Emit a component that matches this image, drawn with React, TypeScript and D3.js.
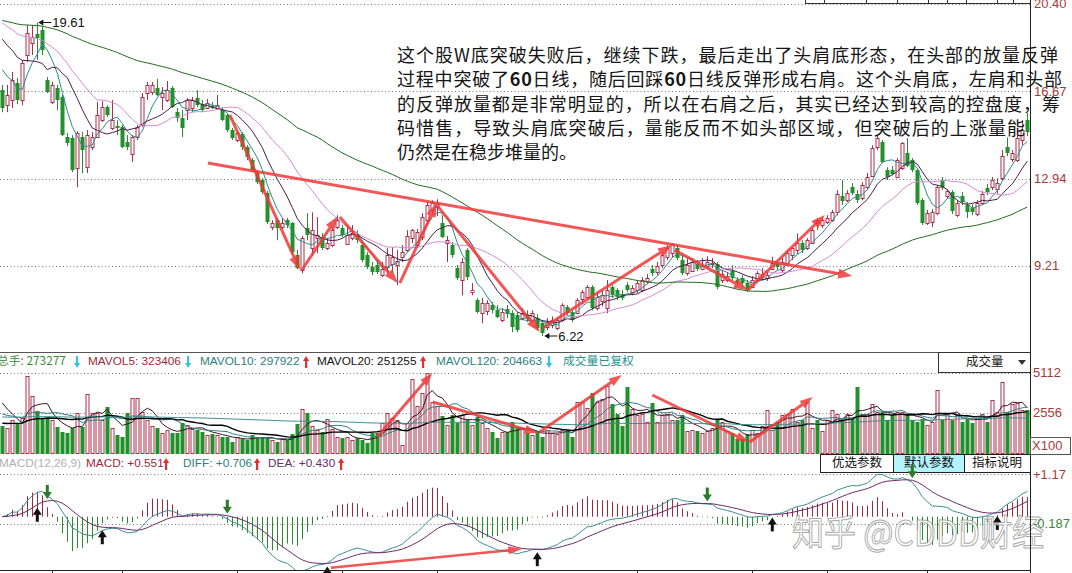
import React from "react";
import * as d3 from "d3";

type Candle = [number, number, number, number]; // open, high, low, close

const candles: Candle[] = [
  [16.72,16.94,15.78,15.96],[16.08,16.94,15.78,16.51],[16.30,17.50,15.96,17.15],[17.02,17.24,16.13,16.30],[16.30,18.01,16.08,17.88],
  [18.22,19.50,17.92,19.16],[18.73,19.50,18.22,18.99],[19.10,19.61,18.01,18.95],[19.29,19.46,18.22,18.43],[17.15,17.28,16.60,16.64],
  [16.21,17.07,16.13,16.94],[16.81,16.94,15.87,16.30],[16.43,16.51,14.76,14.80],[14.72,14.89,14.33,14.46],[14.67,14.80,13.22,13.31],
  [13.39,14.97,12.58,14.89],[14.72,14.93,13.18,14.16],[13.44,15.02,13.18,14.80],[14.29,14.93,14.16,14.72],[14.72,16.21,14.72,15.66],
  [15.44,16.25,15.36,16.00],[16.00,16.08,15.57,15.66],[15.10,16.30,15.02,15.44],[15.18,15.44,14.80,15.10],[15.14,15.23,14.25,14.29],
  [14.50,14.80,14.16,14.29],[14.00,14.80,13.65,14.72],[14.72,15.23,14.59,15.14],[15.23,16.60,15.14,16.43],[16.60,17.07,16.30,16.94],
  [16.64,17.07,16.51,16.94],[16.81,17.20,16.47,16.51],[16.43,16.85,15.87,16.60],[16.30,17.11,16.21,16.72],[16.81,16.90,15.96,16.00],
  [15.78,15.96,15.36,15.53],[15.53,15.87,14.72,15.10],[15.87,16.38,15.44,16.30],[15.95,16.43,15.78,16.30],[16.38,16.72,16.00,16.08],
  [16.13,16.30,15.78,15.87],[15.95,16.34,15.91,16.17],[16.04,16.21,15.91,15.95],[15.95,16.51,15.87,16.08],[15.87,16.00,15.40,15.44],
  [15.66,15.74,14.93,15.02],[15.02,15.10,14.59,14.67],[14.59,14.97,14.50,14.89],[14.84,14.93,14.16,14.29],[14.29,14.37,13.73,13.86],
  [13.73,13.82,13.22,13.31],[13.18,13.31,12.71,12.80],[12.88,12.96,12.28,12.37],[12.32,12.41,11.00,11.08],[10.87,11.17,10.74,11.05],
  [11.17,11.26,10.31,10.83],[10.87,11.26,10.79,11.04],[11.17,11.26,10.83,10.96],[11.04,11.09,9.72,9.80],[9.67,9.89,9.08,9.12],
  [9.03,10.49,8.90,10.40],[10.83,11.47,10.31,10.53],[10.00,11.50,9.67,10.74],[10.40,11.30,9.76,10.53],[10.44,10.61,9.89,9.97],
  [9.97,10.40,9.89,10.18],[10.10,10.83,10.02,10.74],[10.87,11.38,10.79,11.17],[10.83,10.96,10.44,10.53],[10.14,10.96,10.14,10.53],
  [10.40,10.96,10.31,10.61],[10.53,10.74,10.19,10.31],[10.10,10.31,9.38,9.46],[9.67,9.80,9.08,9.16],[9.16,9.38,8.82,8.95],
  [9.25,9.46,8.86,8.95],[8.82,9.38,8.73,9.10],[9.16,9.97,8.86,9.67],[9.29,10.02,8.95,9.59],[9.25,9.89,8.39,9.42],
  [9.60,10.10,9.38,9.80],[9.90,10.74,9.80,10.50],[10.40,10.79,10.19,10.74],[10.10,10.79,10.02,10.65],[10.44,11.47,10.31,11.30],
  [11.17,11.94,11.09,11.81],[11.60,12.02,11.38,11.89],[11.72,12.06,11.34,11.89],[11.04,11.38,10.40,10.44],[10.20,10.49,9.38,10.30],
  [10.10,10.23,9.55,9.67],[9.12,9.25,8.61,8.69],[8.61,9.55,7.96,9.38],[9.89,9.97,8.61,8.73],[8.10,8.48,7.96,8.20],
  [7.75,7.84,7.19,7.24],[7.20,7.84,6.77,7.63],[7.28,7.75,7.11,7.63],[7.54,7.67,7.19,7.32],[7.32,7.54,6.98,7.03],
  [6.90,7.41,6.81,7.24],[7.37,7.54,6.98,7.15],[7.20,7.32,6.38,6.60],[7.10,7.24,6.38,6.47],[7.00,7.41,6.89,7.20],
  [7.10,7.32,6.81,6.95],[6.90,7.32,6.81,7.20],[7.00,7.15,6.47,6.55],[6.77,6.89,6.22,6.35],[6.60,6.98,6.47,6.80],
  [6.70,7.06,6.55,6.90],[6.55,7.02,6.47,6.90],[6.90,7.62,6.81,7.54],[7.46,7.54,7.11,7.20],[7.24,7.32,6.81,6.90],
  [7.20,7.84,7.15,7.75],[7.80,8.18,7.58,8.10],[7.90,8.39,7.79,8.30],[8.30,8.39,7.32,7.40],[7.40,8.05,7.32,7.90],
  [7.70,8.18,7.49,7.98],[7.40,8.61,7.19,8.20],[8.30,8.39,7.84,7.97],[8.20,8.26,7.75,7.90],[8.00,8.18,7.75,7.85],
  [8.40,8.52,8.09,8.18],[8.10,8.39,7.96,8.27],[8.20,8.61,8.05,8.50],[8.20,8.73,8.09,8.60],[8.55,8.86,8.43,8.70],
  [9.10,9.25,8.78,8.90],[8.95,9.38,8.82,9.20],[9.25,9.80,9.12,9.67],[9.60,10.10,9.46,10.00],[9.75,10.19,9.55,10.15],
  [10.00,10.10,9.46,9.55],[9.46,9.67,8.82,8.90],[8.90,9.55,8.80,9.25],[9.00,9.55,8.95,9.38],[9.30,9.46,8.99,9.10],
  [9.10,9.55,9.03,9.20],[9.20,9.63,9.10,9.40],[9.30,9.55,9.12,9.35],[9.30,9.38,8.22,8.30],[8.60,9.03,8.48,8.85],
  [8.60,8.95,8.52,8.80],[9.00,9.25,8.61,8.70],[8.60,8.73,8.35,8.50],[8.70,8.82,8.35,8.50],[8.50,8.61,8.10,8.20],
  [8.30,8.78,8.26,8.60],[8.60,8.99,8.52,8.90],[8.75,9.12,8.61,8.85],[8.70,8.95,8.57,8.82],[9.10,9.60,9.03,9.33],
  [9.30,9.38,9.03,9.15],[9.03,9.55,8.95,9.38],[9.35,9.89,9.25,9.77],[9.70,10.02,9.46,10.00],[9.90,10.60,9.72,10.20],
  [10.20,10.31,9.76,9.90],[9.97,10.40,9.89,10.30],[10.20,10.83,10.14,10.74],[11.17,11.26,10.74,11.00],[10.96,11.30,10.83,11.17],
  [11.10,11.38,11.00,11.25],[11.17,11.60,11.09,11.50],[11.50,12.45,11.38,12.30],[12.20,12.88,11.81,12.00],[12.02,12.45,11.94,12.32],
  [12.60,12.75,12.24,12.32],[12.30,12.45,11.90,12.02],[12.10,12.79,12.02,12.66],[12.60,13.18,12.45,13.00],[13.05,14.37,13.01,14.25],
  [14.30,14.80,14.16,14.67],[14.50,14.59,13.61,13.65],[13.30,13.43,12.88,13.00],[13.30,13.48,13.09,13.15],[13.00,13.82,12.96,13.73],
  [13.40,14.50,13.31,14.46],[14.05,14.67,13.43,13.50],[13.73,13.82,13.22,13.30],[13.30,13.39,11.81,11.90],[12.02,12.11,10.96,11.04],
  [11.04,11.60,10.96,11.47],[11.10,11.64,10.87,11.50],[11.47,12.67,11.38,12.58],[12.88,13.01,12.45,12.55],[12.20,12.49,12.11,12.40],
  [12.35,12.45,11.43,11.55],[11.40,12.02,11.30,11.90],[12.20,12.37,11.81,11.95],[11.80,11.94,11.26,11.50],[11.70,11.85,11.38,11.50],
  [11.45,12.02,11.34,11.90],[11.90,12.41,11.81,12.30],[12.55,12.71,12.24,12.35],[12.60,13.01,12.45,12.88],[12.50,12.95,12.30,12.75],
  [12.95,14.16,12.88,13.90],[14.30,14.70,13.90,14.05],[13.80,14.16,13.65,14.05],[13.73,14.80,13.65,14.67],[14.60,15.44,14.37,15.00],
  [15.44,15.75,14.76,14.93],
];

// volume in units of 100 shares (axis "X100")
const volumes: number[] = [
  1725,1600,2100,1900,2240,4920,3640,2690,2240,2300,
  2100,1660,1340,1280,1600,2560,1660,3770,2560,2560,
  2100,2940,1600,1150,1020,2560,3510,3510,2620,2100,
  1725,1600,1280,1470,1280,1280,1920,1790,1530,1470,
  1340,1150,1210,1150,1020,1020,700,1020,890,830,
  1150,960,1020,960,830,700,890,830,1200,1850,
  2810,2560,1725,1470,1340,2170,1530,1020,960,1020,
  830,960,830,640,1280,1280,1920,2560,2240,2100,
  500,1900,4730,3000,3830,5110,3260,3000,2360,1790,
  2430,1920,2430,2100,1790,2300,1920,1600,1340,960,
  1340,1340,2000,1600,1530,1280,1150,1400,1020,1470,
  1300,1200,1500,1500,1000,3260,3260,2900,3830,3260,
  3450,4280,3100,2500,1700,4220,2800,2400,2500,2000,
  3200,2000,2400,2500,2100,2100,2400,1400,1500,1400,
  1300,1400,1600,2200,2000,1400,1300,900,900,1200,
  1500,1300,1700,2750,1500,2000,2400,2500,2800,2000,
  2100,3260,1600,2100,1400,2100,2750,2500,2100,2500,
  2200,4220,2500,2500,3100,2600,2600,2100,2400,2600,
  2600,2400,2100,2000,2200,1800,2000,4030,2100,2500,
  2100,2400,2000,2200,1900,2200,2500,2000,3390,2600,
  4540,2600,3100,3200,2750,2733,
];

const maPeriods = [5, 10, 20, 60];
const maStartValues = [17.6, 18.9, 19.6, 19.7]; // MA values read at the first candle
const maColors = ["#2b8c8c", "#4a1d4a", "#d58ad5", "#1f6b1f"];

const volMaPeriods = [5, 10, 20, 120];
const volMaStartValues = [3200, 2500, 1900, 2300];
const volMaColors = ["#3a1428", "#2c8080", "#000000", "#3d8d8d"];
const volMaWidths = [1, 1, 1.4, 1];

const priceTicks = [20.4, 16.67, 12.94, 9.21];
const volTicks = [5112, 2556];
const macdTicks = [1.17, -0.187];
const monthTickIdx = [10, 24, 47, 68, 87, 127, 150, 165, 185];

const goldenCross = [7, 20, 65, 107, 154, 199];
const deadCross = [9, 45, 141, 182];

// annotation arrows in data space: [i1, v1, i2, v2]
const priceArrows: number[][] = [
  [41.1, 13.61, 170.0, 8.78],
  [45.5, 15.66, 59.5, 9.04],
  [59.9, 9.04, 67.1, 11.34],
  [67.5, 11.3, 79.1, 8.48],
  [79.5, 8.48, 86.9, 11.9],
  [86.9, 11.81, 107.5, 6.39],
  [108.1, 6.56, 133.9, 10.1],
  [134.5, 9.89, 149.1, 8.18],
  [149.1, 8.18, 164.5, 11.39],
];
const volArrows: number[][] = [
  [75, 1022, 86, 5112],
  [86.1, 3260, 107.1, 1278],
  [107.5, 1342, 123.9, 4984],
  [130, 3706, 149.3, 703],
  [149.5, 703, 162.1, 3578],
];
const macdArrows: number[][] = [[65.7, -1.41, 104, -0.89]];

const noteLines = [
  ["这个股W底突破失败后，继续下跌，最后走出了头肩底形态，在头部的放量反弹"],
  ["过程中突破了", "60", "日线，随后回踩", "60", "日线反弹形成右肩。这个头肩底，左肩和头部"],
  ["的反弹放量都是非常明显的，所以在右肩之后，其实已经达到较高的控盘度，筹"],
  ["码惜售，导致头肩底突破后，量能反而不如头部区域，但突破后的上涨量能"],
  ["仍然是在稳步堆量的。"],
];
const noteLengths = [661, 665, 663, 628, 0];

const UP = "#ad2f4b";
const DOWN = "#23902b";
const ARROW = "#f03a3a";
const AXIS_TXT = "#a8393b";

function seededMA(vals: number[], n: number, start: number) {
  const seed = (n * start - vals[0]) / (n - 1);
  return vals.map((_, i) => {
    let s = 0;
    for (let k = i - n + 1; k <= i; k++) s += k < 0 ? seed : vals[k];
    return s / n;
  });
}

function Arrow({ x1, y1, x2, y2, w = 3, hl = 13, hw = 10, color = ARROW, op = 0.85 }: any) {
  const dx = x2 - x1, dy = y2 - y1;
  const L = Math.hypot(dx, dy);
  const ux = dx / L, uy = dy / L;
  const bx = x2 - ux * hl, by = y2 - uy * hl;
  const px = -uy, py = ux;
  return (
    <g opacity={op}>
      <line x1={x1} y1={y1} x2={bx + ux * 1} y2={by + uy * 1} stroke={color} strokeWidth={w} />
      <polygon
        points={`${x2},${y2} ${bx + (px * hw) / 2},${by + (py * hw) / 2} ${bx - (px * hw) / 2},${by - (py * hw) / 2}`}
        fill={color}
      />
    </g>
  );
}

function SmallArrow({ x, y, up, color }: { x: number; y: number; up: boolean; color: string }) {
  const top = y - 5, bot = y + 5;
  if (up)
    return (
      <g fill={color}>
        <rect x={x - 1} y={top + 3} width={2.2} height={8} />
        <polygon points={`${x + 0.1},${top - 1} ${x - 3},${top + 4} ${x + 3.2},${top + 4}`} />
      </g>
    );
  return (
    <g fill={color}>
      <rect x={x - 1} y={top - 1} width={2.2} height={8} />
      <polygon points={`${x + 0.1},${bot + 1} ${x - 3},${bot - 4} ${x + 3.2},${bot - 4}`} />
    </g>
  );
}

export default function App() {
  const N = candles.length;
  const closes = candles.map((d) => d[3]);
  const highs = candles.map((d) => d[1]);
  const lows = candles.map((d) => d[2]);

  const xp = d3.scalePoint<number>().domain(d3.range(N)).range([-0.2, 1029.8]).padding(0.5);
  const xi = d3.scaleLinear().domain([0, N - 1]).range([xp(0)!, xp(N - 1)!]);
  const yP = d3.scaleLinear().domain([9.21, 20.4]).range([266, 4]);
  const yV = d3.scaleLinear().domain([0, 5112]).range([453, 373]);
  const yM = d3.scaleLinear().domain([-0.187, 1.17]).range([523.5, 474.4]);

  const mas = maPeriods.map((p, k) => seededMA(closes, p, maStartValues[k]));
  const vmas = volMaPeriods.map((p, k) => seededMA(volumes, p, volMaStartValues[k]));

  // MACD
  const diff: number[] = [], dea: number[] = [], hist: number[] = [];
  let e12 = closes[0], e26 = closes[0], d9 = 0;
  closes.forEach((c) => {
    e12 = (2 * c + 11 * e12) / 13;
    e26 = (2 * c + 25 * e26) / 27;
    const df = e12 - e26;
    d9 = (2 * df + 8 * d9) / 10;
    diff.push(df);
    dea.push(d9);
    hist.push(2 * (df - d9));
  });

  const lineP = (vals: number[]) =>
    d3.line<number>().x((_, i) => xp(i)!).y((v) => yP(v))(vals) || "";
  const lineV = (vals: number[]) =>
    d3.line<number>().x((_, i) => xp(i)!).y((v) => yV(v))(vals) || "";
  const lineM = (vals: number[]) =>
    d3.line<number>().x((_, i) => xp(i)!).y((v) => yM(v))(vals) || "";

  const hiIdx = d3.maxIndex(highs);
  const loIdx = d3.minIndex(lows);

  const font = "'Liberation Sans', Arial, sans-serif";
  const cjk = "'Noto Sans CJK SC', 'Liberation Sans', sans-serif";
  const topRuler = [805, 824, 866, 897, 928, 947, 966, 997, 1013];

  return (
    <div style={{ position: "absolute", left: 0, top: 0 }}>
      <svg width={1072} height={573} style={{ display: "block", background: "#fff" }} fontFamily={font}>
        <defs>
          <clipPath id="cp-price"><rect x={0} y={0} width={1030} height={351} /></clipPath>
          <clipPath id="cp-vol"><rect x={0} y={372} width={1030} height={82} /></clipPath>
          <clipPath id="cp-macd"><rect x={0} y={473} width={1030} height={97} /></clipPath>
        </defs>
        <rect x={0} y={0} width={1072} height={573} fill="#fff" />

        {/* grid lines */}
        {priceTicks.map((t) => (
          <line key={"pg" + t} x1={0} x2={1030} y1={Math.round(yP(t)) + 0.5} y2={Math.round(yP(t)) + 0.5}
            stroke="#777" strokeDasharray="1,2.5" />
        ))}
        {volTicks.map((t) => (
          <line key={"vg" + t} x1={0} x2={1030} y1={Math.round(yV(t)) + 0.5} y2={Math.round(yV(t)) + 0.5}
            stroke="#777" strokeDasharray="1,2.5" />
        ))}
        {macdTicks.map((t) => (
          <line key={"mg" + t} x1={0} x2={1030} y1={Math.round(yM(t)) + 0.5} y2={Math.round(yM(t)) + 0.5}
            stroke="#777" strokeDasharray="1,2.5" />
        ))}

        {/* top ruler decoration */}
        <line x1={topRuler[0]} x2={1030} y1={3.5} y2={3.5} stroke="#333" />
        {topRuler.map((x) => (
          <line key={"tr" + x} x1={x + 0.5} x2={x + 0.5} y1={0} y2={3.5} stroke="#333" />
        ))}

        {/* candles */}
        <g clipPath="url(#cp-price)">
          {candles.map((d, i) => {
            const [o, h, l, c] = d;
            const cx = Math.round(xp(i)!);
            const up = c >= o;
            const yT = Math.round(yP(Math.max(o, c)));
            const yB = Math.round(yP(Math.min(o, c)));
            const yH = yP(h), yL = yP(l);
            if (up) {
              return (
                <g key={i} stroke={UP} strokeWidth={1}>
                  <line x1={cx + 0.5} x2={cx + 0.5} y1={yH} y2={yT} />
                  <line x1={cx + 0.5} x2={cx + 0.5} y1={yB + 1} y2={yL} />
                  <rect x={cx - 1} y={yT + 0.5} width={3} height={Math.max(yB - yT, 0.5)} fill="#fff" />
                </g>
              );
            }
            return (
              <g key={i}>
                <line x1={cx + 0.5} x2={cx + 0.5} y1={yH} y2={yL} stroke={DOWN} />
                <rect x={cx - 1.5} y={yT} width={4} height={Math.max(yB - yT, 1)} fill={DOWN} />
              </g>
            );
          })}
          {mas.map((m, k) => (
            <path key={"ma" + k} d={lineP(m)} fill="none" stroke={maColors[k]} strokeWidth={1} />
          ))}
        </g>

        {/* high / low markers */}
        <g fontSize={13} fill="#111">
          <line x1={xp(hiIdx)! + 3} x2={xp(hiIdx)! + 14} y1={yP(highs[hiIdx])} y2={yP(highs[hiIdx])} stroke="#111" />
          <polygon points={`${xp(hiIdx)! + 1},${yP(highs[hiIdx])} ${xp(hiIdx)! + 6},${yP(highs[hiIdx]) - 3} ${xp(hiIdx)! + 6},${yP(highs[hiIdx]) + 3}`} fill="#111" />
          <text x={xp(hiIdx)! + 15} y={yP(highs[hiIdx]) + 4.5}>{highs[hiIdx].toFixed(2)}</text>
          <line x1={xp(loIdx)! + 4} x2={xp(loIdx)! + 15} y1={yP(lows[loIdx])} y2={yP(lows[loIdx])} stroke="#111" />
          <polygon points={`${xp(loIdx)! + 2},${yP(lows[loIdx])} ${xp(loIdx)! + 7},${yP(lows[loIdx]) - 3} ${xp(loIdx)! + 7},${yP(lows[loIdx]) + 3}`} fill="#111" />
          <text x={xp(loIdx)! + 16} y={yP(lows[loIdx]) + 4.5}>{lows[loIdx].toFixed(2)}</text>
        </g>

        {/* price annotation arrows */}
        {priceArrows.map((a, k) => (
          <Arrow key={"pa" + k} x1={xi(a[0])} y1={yP(a[1])} x2={xi(a[2])} y2={yP(a[3])} w={3} hl={14} hw={10} />
        ))}

        {/* annotation paragraph */}
        <g fontFamily={cjk} fontSize={18} fill="#151515">
          {noteLines.map((parts, li) => (
            <text key={"nl" + li} x={397} y={62 + li * 24.3}
              {...(noteLengths[li] ? { textLength: noteLengths[li], lengthAdjust: "spacing" } : {})}>
              {parts.map((p, pi) => (
                <tspan key={pi} fontWeight={p === "60" ? "bold" : "normal"}>{p}</tspan>
              ))}
            </text>
          ))}
        </g>

        {/* panel separator */}
        <line x1={0} x2={1030} y1={352.5} y2={352.5} stroke="#555" />

        {/* volume header */}
        <g fontSize={11.8} dominantBaseline="middle">
          <text x={-3} y={362} fill="#3a8a3a" fontFamily={cjk}>总手: 273277</text>
          <SmallArrow x={77} y={362} up={false} color="#3cc0e0" />
          <text x={88} y={362} fill="#9b2a3a">MAVOL5: 323406</text>
          <SmallArrow x={188} y={362} up={false} color="#3cc0e0" />
          <text x={200} y={362} fill="#2c8080">MAVOL10: 297922</text>
          <SmallArrow x={306} y={362} up={true} color="#e03030" />
          <text x={317} y={362} fill="#111">MAVOL20: 251255</text>
          <SmallArrow x={423} y={362} up={true} color="#e03030" />
          <text x={436} y={362} fill="#2c8080">MAVOL120: 204663</text>
          <SmallArrow x={549} y={362} up={false} color="#3cc0e0" />
          <text x={563} y={362} fill="#2c9090" fontFamily={cjk}>成交量已复权</text>
        </g>
        <rect x={938.5} y={352.5} width={92} height={20} fill="#fff" stroke="#333" />
        <text x={966} y={363} fontSize={12.5} fontFamily={cjk} fill="#222" dominantBaseline="middle">成交量</text>
        <polygon points="1018,360 1026,360 1022,365" fill="#333" />

        {/* volume bars */}
        <g clipPath="url(#cp-vol)">
          {volumes.map((v, i) => {
            const [o, , , c] = candles[i];
            const cx = Math.round(xp(i)!);
            const yt = Math.round(yV(v));
            if (c >= o)
              return <rect key={i} x={cx - 1} y={yt + 0.5} width={3} height={453 - yt} fill="#fff" stroke={UP} />;
            return <rect key={i} x={cx - 1.5} y={yt} width={4} height={454 - yt} fill={DOWN} />;
          })}
          {vmas.map((m, k) => (
            <path key={"vma" + k} d={lineV(m)} fill="none" stroke={volMaColors[k]} strokeWidth={volMaWidths[k]} />
          ))}
        </g>
        {volArrows.map((a, k) => (
          <Arrow key={"va" + k} x1={xi(a[0])} y1={yV(a[1])} x2={xi(a[2])} y2={yV(a[3])} w={3} hl={13} hw={9} />
        ))}

        {/* MACD header */}
        <g fontSize={11.8} dominantBaseline="middle">
          <text x={-1} y={464} fill="#b0b0b0">MACD(12,26,9)</text>
          <text x={86} y={464} fill="#9b2a3a">MACD: +0.551</text>
          <SmallArrow x={166} y={464} up={true} color="#e03030" />
          <text x={183} y={464} fill="#2c8080">DIFF: +0.706</text>
          <SmallArrow x={257} y={464} up={true} color="#e03030" />
          <text x={268} y={464} fill="#6a2a6a">DEA: +0.430</text>
          <SmallArrow x={341} y={464} up={true} color="#e03030" />
        </g>
        <g fontFamily={cjk} fontSize={12.5}>
          <rect x={820.5} y={454.5} width={210} height={18} fill="#fff" stroke="#222" />
          <rect x={893.5} y={455} width={71} height={17} fill="#b3f3fb" />
          <line x1={893.5} x2={893.5} y1={454.5} y2={472.5} stroke="#222" />
          <line x1={964.5} x2={964.5} y1={454.5} y2={472.5} stroke="#222" />
          <text x={857} y={464} textAnchor="middle" dominantBaseline="middle" fill="#111">优选参数</text>
          <text x={929} y={464} textAnchor="middle" dominantBaseline="middle" fill="#111">默认参数</text>
          <text x={997} y={464} textAnchor="middle" dominantBaseline="middle" fill="#111">指标说明</text>
        </g>

        {/* MACD */}
        <g clipPath="url(#cp-macd)">
          {hist.map((h, i) => {
            const cx = Math.round(xp(i)!) + 0.5;
            return (
              <line key={"h" + i} x1={cx} x2={cx} y1={yM(0)} y2={yM(h)}
                stroke={h >= 0 ? "#a0283a" : "#2a8a2a"} strokeWidth={1} />
            );
          })}
          <path d={lineM(diff)} fill="none" stroke="#3a8e94" strokeWidth={1} />
          <path d={lineM(dea)} fill="none" stroke="#6b2a6b" strokeWidth={1} />
        </g>
        {goldenCross.map((i) => {
          const x = xp(i)!, y = yM(dea[i]) + 3;
          return (
            <g key={"gc" + i} fill="#111">
              <polygon points={`${x},${y} ${x - 4.5},${y + 7} ${x + 4.5},${y + 7}`} />
              <rect x={x - 1.5} y={y + 6} width={3} height={8} />
            </g>
          );
        })}
        {deadCross.map((i) => {
          const x = xp(i)!, y = yM(dea[i]) - 2;
          return (
            <g key={"dc" + i} fill="#2a7a2a">
              <polygon points={`${x},${y} ${x - 4.5},${y - 7} ${x + 4.5},${y - 7}`} />
              <rect x={x - 1.5} y={y - 14} width={3} height={8} />
            </g>
          );
        })}
        {macdArrows.map((a, k) => (
          <Arrow key={"ma" + k} x1={xi(a[0])} y1={yM(a[1])} x2={xi(a[2])} y2={yM(a[3])} w={2.5} hl={14} hw={8} />
        ))}

        {/* watermark */}
        <text x={792} y={546} fontFamily={cjk} fontSize={36} fill="#ffffff" fillOpacity={0.7}
          stroke="#8a8a8a" strokeOpacity={0.75} strokeWidth={1} textLength={252} lengthAdjust="spacingAndGlyphs">
          知乎 @CDDD财经
        </text>

        {/* bottom axis */}
        <line x1={0} x2={1030} y1={570.5} y2={570.5} stroke="#222" />
        {monthTickIdx.map((i) => (
          <line key={"mt" + i} x1={Math.round(xp(i)!) + 0.5} x2={Math.round(xp(i)!) + 0.5} y1={570} y2={573} stroke="#222" />
        ))}

        {/* right axis */}
        <line x1={1030.5} x2={1030.5} y1={0} y2={573} stroke="#222" />
        <g fontSize={13} fill={AXIS_TXT} dominantBaseline="middle">
          {priceTicks.map((t) => (
            <text key={"pt" + t} x={1034} y={yP(t) + 1}>{t.toFixed(2)}</text>
          ))}
          {volTicks.map((t) => (
            <text key={"vt" + t} x={1033} y={yV(t) + 1}>{t}</text>
          ))}
          <rect x={1030.5} y={437.5} width={40} height={17} fill="none" stroke="#555" />
          <text x={1032} y={447}>X100</text>
          <text x={1033} y={yM(1.17) + 1}>+1.17</text>
          <text x={1033} y={yM(-0.187) + 1} fill="#3a8a3a">-0.187</text>
        </g>
      </svg>
    </div>
  );
}
